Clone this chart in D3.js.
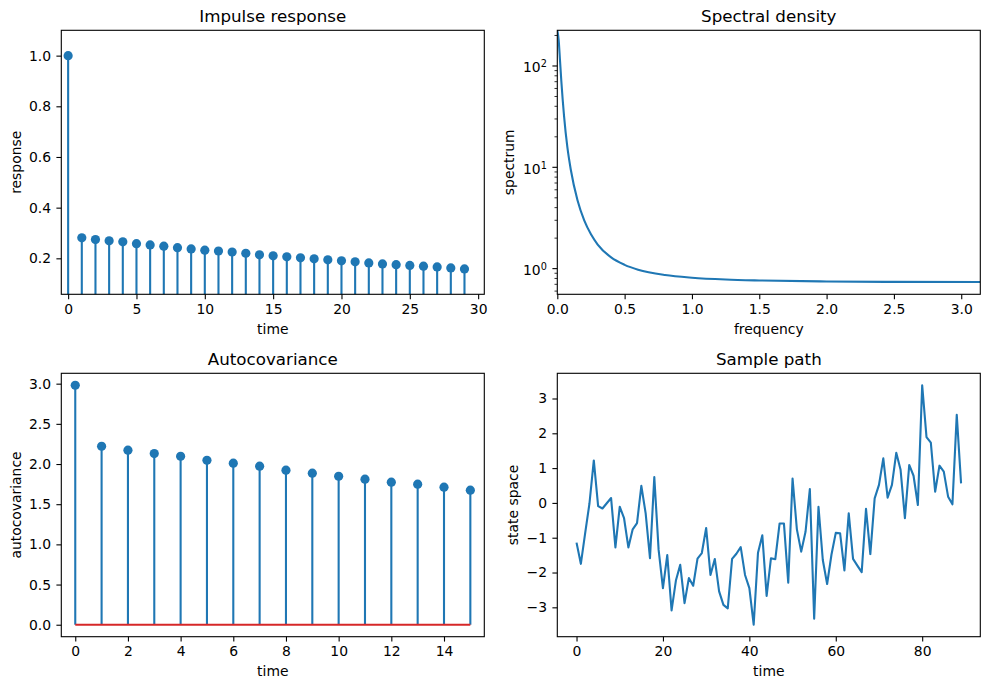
<!DOCTYPE html>
<html><head><meta charset="utf-8">
<script src="https://cdn.jsdelivr.net/npm/d3@7"></script>
<style>
body{margin:0;background:#fff;}
svg{display:block;font-family:"DejaVu Sans",sans-serif;}
</style></head>
<body>
<svg id="chart" width="989" height="690"></svg>
<script>
// ---------- data ----------
const impulseTime = [0,1,2,3,4,5,6,7,8,9,10,11,12,13,14,15,16,17,18,19,20,21,22,23,24,25,26,27,28,29];
const impulseValues = [1.0,0.281,0.274,0.269,0.265,0.258,0.253,0.248,0.242,0.237,0.232,0.229,0.225,0.220,0.214,0.210,0.206,0.202,0.198,0.194,0.190,0.186,0.182,0.178,0.175,0.172,0.169,0.166,0.162,0.158];

const spectrumFreq = [0,0.01,0.02,0.03,0.05,0.075,0.1,0.15,0.2,0.25,0.3,0.4,0.5,0.6,0.8,1.0,1.25,1.5,2.0,2.5,3.1416];
const spectrumValues = [225,181,114,70.7,32.2,15.7,9.52,4.72,2.99,2.18,1.73,1.29,1.09,0.976,0.865,0.814,0.781,0.764,0.747,0.740,0.737];

const acovTime = [0,1,2,3,4,5,6,7,8,9,10,11,12,13,14,15];
const acovValues = [2.98,2.221,2.172,2.130,2.097,2.047,2.010,1.973,1.923,1.886,1.848,1.811,1.774,1.749,1.712,1.674];

const pathValues = [-1.14,-1.75,-0.87,-0.01,1.22,-0.09,-0.16,-0.01,0.14,-1.28,
  -0.11,-0.44,-1.28,-0.76,-0.58,0.49,-0.30,-1.59,0.74,-1.35,
  -2.45,-1.50,-3.09,-2.23,-1.78,-2.88,-2.16,-2.38,-1.60,-1.44,
  -0.72,-2.07,-1.61,-2.54,-2.93,-3.03,-1.61,-1.46,-1.27,-2.07,
  -2.45,-3.50,-1.43,-0.93,-2.67,-1.59,-1.62,-0.59,-0.59,-2.29,
  0.70,-0.76,-1.40,-0.83,0.40,-3.33,-0.11,-1.64,-2.33,-1.49,
  -0.86,-0.87,-1.94,-0.30,-1.61,-1.80,-1.99,-0.17,-1.47,0.13,
  0.52,1.28,0.15,0.52,1.44,0.95,-0.44,1.09,0.78,-0.06,
  3.38,1.89,1.73,0.32,1.07,0.90,0.18,-0.04,2.53,0.56];
const pathTime = pathValues.map((v,i)=>i);

const impulseXTicks = [0,5,10,15,20,25,30];
const impulseYTicks = [0.2,0.4,0.6,0.8,1.0];
const spectrumXTicks = [0,0.5,1.0,1.5,2.0,2.5,3.0];
const acovXTicks = [0,2,4,6,8,10,12,14];
const acovYTicks = [0,0.5,1.0,1.5,2.0,2.5,3.0];
const pathXTicks = [0,20,40,60,80];
const pathYTicks = [-3,-2,-1,0,1,2,3];

// ---------- style ----------
const BLUE = "#1f77b4", RED = "#d62728";
const FS = 13.9, TFS = 16.7;
const svg = d3.select("#chart");

const boxes = {
  p1:{l:61.3,t:30.3,r:484.3,b:294.3},
  p2:{l:557.3,t:30.3,r:980.3,b:294.3},
  p3:{l:61.3,t:373.3,r:484.3,b:636.7},
  p4:{l:557.3,t:373.3,r:980.3,b:636.7}
};

const minus = s => String(s).replace("-", "\u2212");

function frame(box, x, y, opt){
  const g = svg.append("g");
  const xa = g.append("g").attr("transform",`translate(0,${box.b})`)
    .call(d3.axisBottom(x).tickValues(opt.xTicks).tickSize(4.9).tickPadding(4.5).tickFormat(opt.xFmt));
  xa.select(".domain").remove();
  xa.selectAll("line").attr("stroke","#000").attr("stroke-width",1.1);
  xa.selectAll("text").attr("font-size",FS).attr("fill","#000").attr("font-family","DejaVu Sans");
  if(!opt.customY){
    const ya = g.append("g").attr("transform",`translate(${box.l},0)`)
      .call(d3.axisLeft(y).tickValues(opt.yTicks).tickSize(4.9).tickPadding(5.4).tickFormat(opt.yFmt));
    ya.select(".domain").remove();
    ya.selectAll("line").attr("stroke","#000").attr("stroke-width",1.1);
    ya.selectAll("text").attr("font-size",FS).attr("fill","#000").attr("font-family","DejaVu Sans");
  }
  g.append("text").attr("x",(box.l+box.r)/2).attr("y",box.t-8.6)
    .attr("text-anchor","middle").attr("font-size",TFS).text(opt.title);
  g.append("text").attr("x",(box.l+box.r)/2).attr("y",box.b+39.5)
    .attr("text-anchor","middle").attr("font-size",FS).text(opt.xLabel);
  g.append("text").attr("transform",`translate(${opt.yLabelX},${(box.t+box.b)/2}) rotate(-90)`)
    .attr("text-anchor","middle").attr("font-size",FS).text(opt.yLabel);
  return g;
}
function spines(box){
  svg.append("rect").attr("x",box.l).attr("y",box.t).attr("width",box.r-box.l).attr("height",box.b-box.t)
    .attr("fill","none").attr("stroke","#000").attr("stroke-width",1.1);
}
function clip(id, box){
  svg.append("clipPath").attr("id",id).append("rect")
    .attr("x",box.l).attr("y",box.t).attr("width",box.r-box.l).attr("height",box.b-box.t);
}

// ---------- Panel 1: Impulse response ----------
{
  const box = boxes.p1;
  const x = d3.scaleLinear().domain([-0.5,30.45]).range([box.l,box.r]);
  const y = d3.scaleLinear().domain([0.058,1.1]).range([box.b,box.t]);
  clip("c1",box);
  frame(box,x,y,{xTicks:impulseXTicks,yTicks:impulseYTicks,xFmt:d3.format("d"),yFmt:d3.format(".1f"),
    title:"Impulse response",xLabel:"time",yLabel:"response",yLabelX:20.8});
  const g = svg.append("g").attr("clip-path","url(#c1)");
  g.selectAll("line.stem").data(impulseValues).join("line")
    .attr("x1",(d,i)=>x(impulseTime[i])).attr("x2",(d,i)=>x(impulseTime[i]))
    .attr("y1",y(0)).attr("y2",d=>y(d)).attr("stroke",BLUE).attr("stroke-width",2.1);
  g.selectAll("circle").data(impulseValues).join("circle")
    .attr("cx",(d,i)=>x(impulseTime[i])).attr("cy",d=>y(d)).attr("r",4.6).attr("fill",BLUE);
  spines(box);
}

// ---------- Panel 2: Spectral density ----------
{
  const box = boxes.p2;
  const x = d3.scaleLinear().domain([0,Math.PI]).range([box.l,box.r]);
  const y = d3.scaleLog().domain([0.558,225]).range([box.b,box.t]);
  clip("c2",box);
  frame(box,x,y,{xTicks:spectrumXTicks,xFmt:d3.format(".1f"),customY:true,
    title:"Spectral density",xLabel:"frequency",yLabel:"spectrum",yLabelX:514});
  const majors = [1,10,100];
  const minors = [0.6,0.7,0.8,0.9,2,3,4,5,6,7,8,9,20,30,40,50,60,70,80,90,200];
  const yg = svg.append("g");
  yg.selectAll("line.maj").data(majors).join("line")
    .attr("x1",box.l-4.9).attr("x2",box.l).attr("y1",d=>y(d)).attr("y2",d=>y(d))
    .attr("stroke","#000").attr("stroke-width",1.1);
  yg.selectAll("line.min").data(minors).join("line")
    .attr("x1",box.l-2.8).attr("x2",box.l).attr("y1",d=>y(d)).attr("y2",d=>y(d))
    .attr("stroke","#000").attr("stroke-width",0.8);
  const exps = ["0","1","2"];
  majors.forEach((m,i)=>{
    const t = yg.append("text").attr("x",box.l-10.4).attr("y",y(m)+6.2)
      .attr("text-anchor","end").attr("font-size",FS);
    t.append("tspan").text("10");
    t.append("tspan").attr("font-size",9.7).attr("dy",-5).text(exps[i]);
  });
  const line = d3.line().x((d,i)=>x(spectrumFreq[i])).y(d=>y(d)).curve(d3.curveMonotoneX);
  svg.append("path").datum(spectrumValues).attr("clip-path","url(#c2)")
    .attr("d",line).attr("fill","none").attr("stroke",BLUE).attr("stroke-width",2.1);
  spines(box);
}

// ---------- Panel 3: Autocovariance ----------
{
  const box = boxes.p3;
  const x = d3.scaleLinear().domain([-0.53,15.53]).range([box.l,box.r]);
  const y = d3.scaleLinear().domain([-0.149,3.129]).range([box.b,box.t]);
  frame(box,x,y,{xTicks:acovXTicks,yTicks:acovYTicks,xFmt:d3.format("d"),yFmt:d3.format(".1f"),
    title:"Autocovariance",xLabel:"time",yLabel:"autocovariance",yLabelX:20.8});
  const g = svg.append("g");
  g.selectAll("line.stem").data(acovValues).join("line")
    .attr("x1",(d,i)=>x(acovTime[i])).attr("x2",(d,i)=>x(acovTime[i]))
    .attr("y1",y(0)).attr("y2",d=>y(d)).attr("stroke",BLUE).attr("stroke-width",2.1);
  g.append("line").attr("x1",x(acovTime[0])).attr("x2",x(acovTime[acovTime.length-1]))
    .attr("y1",y(0)).attr("y2",y(0)).attr("stroke",RED).attr("stroke-width",2.1);
  g.selectAll("circle").data(acovValues).join("circle")
    .attr("cx",(d,i)=>x(acovTime[i])).attr("cy",d=>y(d)).attr("r",4.6).attr("fill",BLUE);
  spines(box);
}

// ---------- Panel 4: Sample path ----------
{
  const box = boxes.p4;
  const xe = d3.extent(pathTime), ye = d3.extent(pathValues);
  const mx = (xe[1]-xe[0])*0.05, my = (ye[1]-ye[0])*0.05;
  const x = d3.scaleLinear().domain([xe[0]-mx,xe[1]+mx]).range([box.l,box.r]);
  const y = d3.scaleLinear().domain([ye[0]-my,ye[1]+my]).range([box.b,box.t]);
  frame(box,x,y,{xTicks:pathXTicks,yTicks:pathYTicks,xFmt:d3.format("d"),yFmt:d=>minus(d),
    title:"Sample path",xLabel:"time",yLabel:"state space",yLabelX:518.3});
  const line = d3.line().x((d,i)=>x(pathTime[i])).y(d=>y(d));
  svg.append("path").datum(pathValues).attr("d",line).attr("fill","none")
    .attr("stroke",BLUE).attr("stroke-width",2.1).attr("stroke-linejoin","round");
  spines(box);
}
</script>
</body></html>
